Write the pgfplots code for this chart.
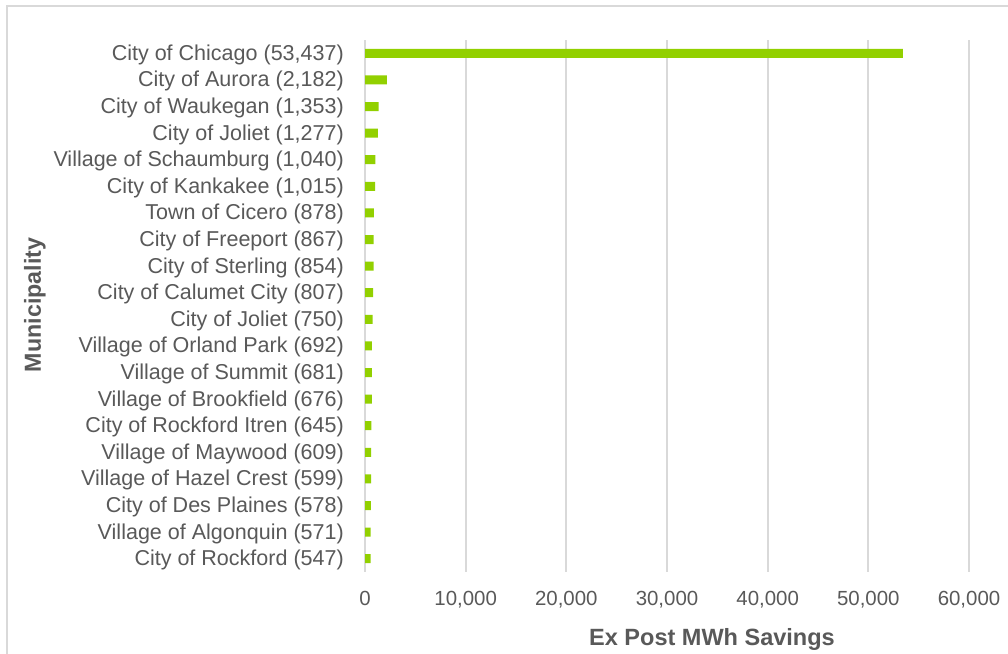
\documentclass[border=0pt]{standalone}
\usepackage{pgfplots}
\pgfplotsset{compat=1.18}
\usepackage{fontspec}
\setmainfont{Liberation Sans}
\definecolor{bargreen}{RGB}{146,208,0}
\definecolor{txtgray}{RGB}{89,89,89}
\definecolor{gridgray}{RGB}{217,217,217}

\begin{document}
\begin{tikzpicture}
\useasboundingbox (0,0) rectangle (1008bp,654bp);
\fill[white] (0,0) rectangle (1008bp,654bp);
% chart frame
\draw[gridgray, line width=2bp] (7bp,0) -- (7bp,648bp) -- (1008bp,648bp);
\begin{axis}[
  at={(365bp,82bp)}, anchor=south west,
  scale only axis, width=604bp, height=532bp,
  xbar, bar width=9bp,
  xmin=0, xmax=60000,
  ymin=-0.5, ymax=19.5, y dir=reverse,
  axis lines*=left,
  x axis line style={draw=none},
  y axis line style={gridgray, line width=2bp},
  xmajorgrids, grid style={gridgray, line width=2bp},
  major tick length=0pt,
  xtick={0,10000,20000,30000,40000,50000,60000},
  scaled x ticks=false,
  /pgf/number format/.cd, 1000 sep={,}, assume math mode=true,
  /pgfplots/.cd,
  ytick={0,...,19},
  yticklabels={
    {City of Chicago (53,437)},
    {City of Aurora (2,182)},
    {City of Waukegan (1,353)},
    {City of Joliet (1,277)},
    {Village of Schaumburg (1,040)},
    {City of Kankakee (1,015)},
    {Town of Cicero (878)},
    {City of Freeport (867)},
    {City of Sterling (854)},
    {City of Calumet City (807)},
    {City of Joliet (750)},
    {Village of Orland Park (692)},
    {Village of Summit (681)},
    {Village of Brookfield (676)},
    {City of Rockford Itren (645)},
    {Village of Maywood (609)},
    {Village of Hazel Crest (599)},
    {City of Des Plaines (578)},
    {Village of Algonquin (571)},
    {City of Rockford (547)}},
  yticklabel style={font=\fontsize{21.6}{21.6}\selectfont, text=txtgray, anchor=east, inner sep=0pt, xshift=-21bp, yshift=-1.5bp},
  xticklabel style={font=\fontsize{20.5}{20.5}\selectfont, text=txtgray, anchor=north, inner sep=0pt, yshift=-19bp},
  xlabel={Ex Post MWh Savings},
  ylabel={Municipality},
  xlabel style={font=\bfseries\fontsize{23.6}{23.6}\selectfont, text=txtgray, at={(axis description cs:0.5745,-0.126)}, anchor=center, inner sep=0pt},
  ylabel style={font=\bfseries\fontsize{23.3}{23.3}\selectfont, text=txtgray, at={(axis description cs:-0.5464,0.502)}, anchor=center, rotate=0, inner sep=0pt},
]
\addplot[fill=bargreen, draw=none] coordinates {
  (53437,0) (2182,1) (1353,2) (1277,3) (1040,4) (1015,5) (878,6) (867,7)
  (854,8) (807,9) (750,10) (692,11) (681,12) (676,13) (645,14) (609,15)
  (599,16) (578,17) (571,18) (547,19)
};
\end{axis}
\end{tikzpicture}
\end{document}
